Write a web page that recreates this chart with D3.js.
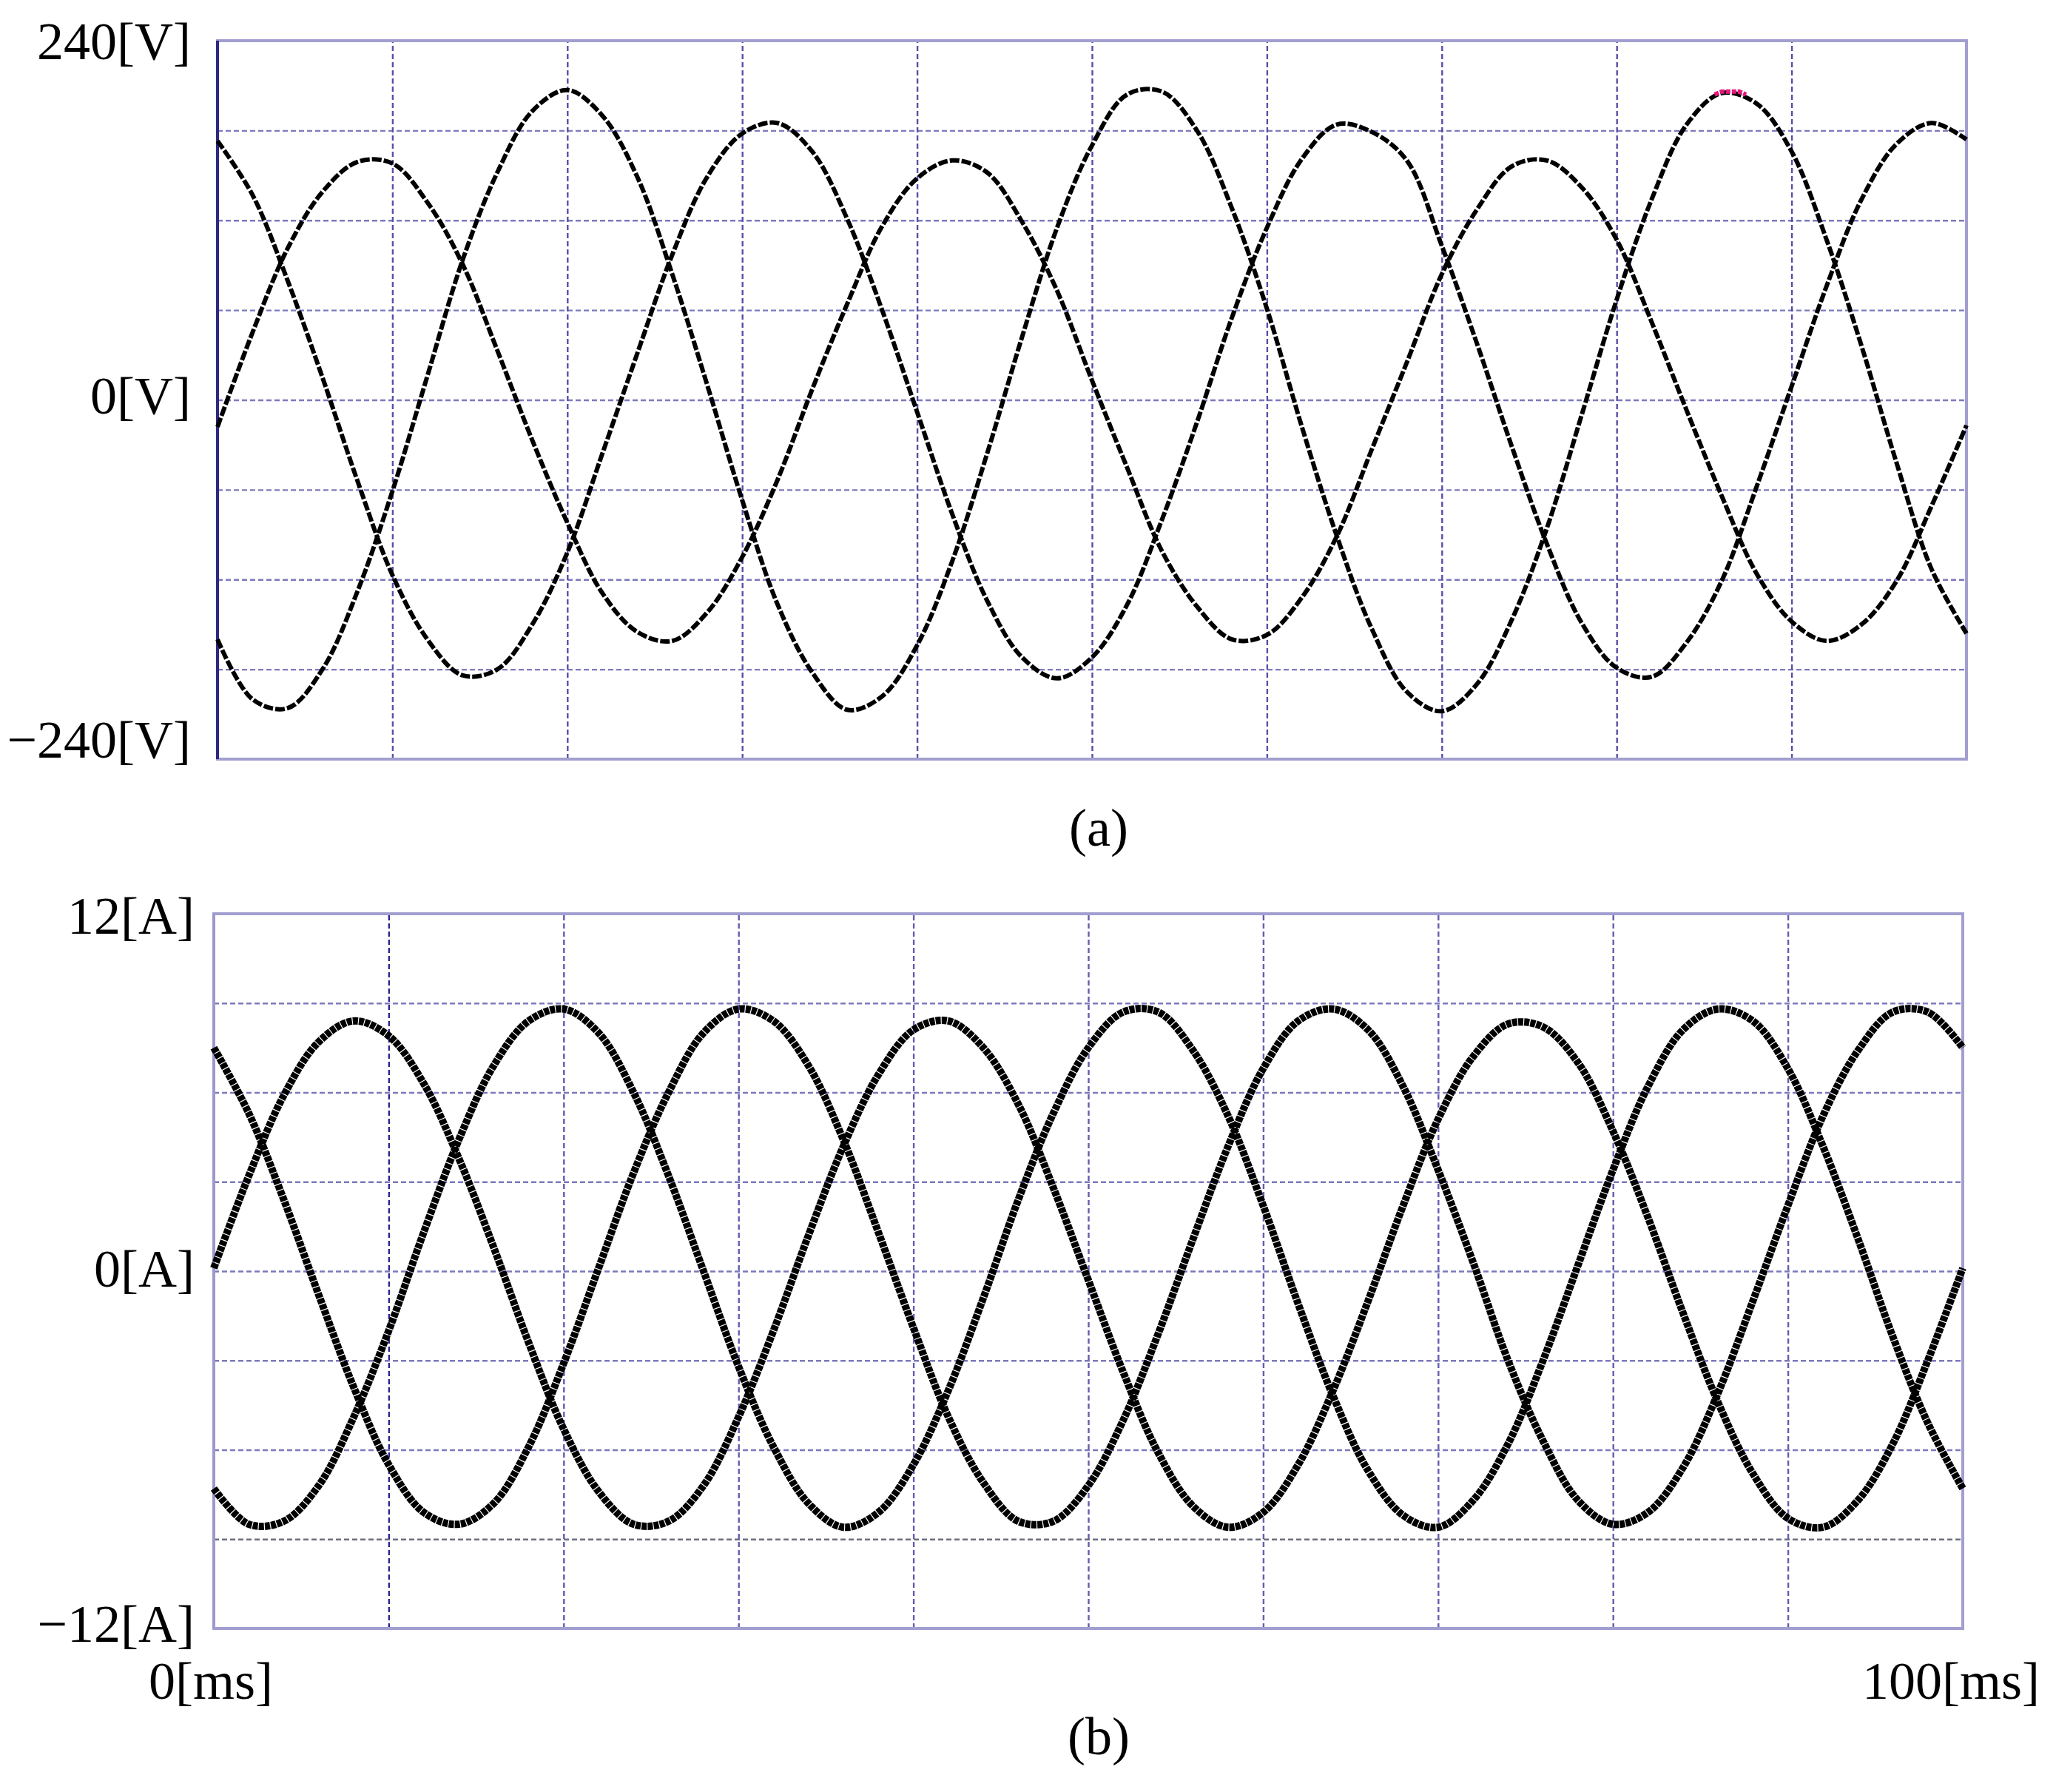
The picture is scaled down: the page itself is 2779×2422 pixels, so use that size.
<!DOCTYPE html>
<html>
<head>
<meta charset="utf-8">
<script src="https://cdn.jsdelivr.net/npm/d3@7"></script>
<style>
  body { margin: 0; background: #fff; }
  text { font-family: "Liberation Serif", "Times New Roman", serif; fill: #000; }
</style>
</head>
<body>
<svg id="chart" width="2779" height="2422"></svg>
<script>
// sample times (ms), one reading every 2 ms
const timeMs = [0, 2, 4, 6, 8, 10, 12, 14, 16, 18, 20, 22, 24, 26, 28, 30, 32, 34, 36, 38, 40,
    42, 44, 46, 48, 50, 52, 54, 56, 58, 60, 62, 64, 66, 68, 70, 72, 74, 76, 78, 80,
    82, 84, 86, 88, 90, 92, 94, 96, 98, 100];

// (a) phase voltages [V]
const voltageA = [-160, -200, -206, -180, -128, -61, 16, 93, 152, 193, 207, 190, 149, 84, 10, -67, -136,
    -182, -207, -198, -164, -108, -36, 42, 115, 170, 204, 206, 180, 128, 61, -18, -91, -153, -195,
    -208, -190, -147, -86, -10, 67, 134, 184, 205, 198, 166, 107, 36, -42, -113, -156];
const voltageB = [173, 137, 80, 15, -54, -117, -160, -184, -180, -150, -102, -36, 31, 97, 149, 178, 185,
    166, 121, 60, -8, -76, -134, -172, -186, -172, -137, -80, -15, 55, 115, 161, 184, 179, 160, 103,
    38, -31, -96, -149, -179, -185, -162, -121, -58, 9, 76, 134, 171, 185, 174];
const voltageC = [-18, 45, 101, 139, 159, 158, 132, 91, 33, -27, -82, -129, -155, -161, -142, -105, -54,
    7, 64, 116, 148, 160, 152, 119, 73, 13, -45, -101, -138, -160, -157, -132, -91, -33, 25, 84, 127,
    156, 160, 142, 107, 52, -7, -64, -116, -148, -161, -150, -121, -71, -17];

// (b) phase currents [A]
const currentA = [-7.3, -8.5, -8.4, -7.2, -4.9, -2.0, 1.3, 4.4, 6.9, 8.4, 8.8, 8.0, 6.0, 3.2, 0.0, -3.2,
    -5.9, -7.8, -8.6, -8.1, -6.5, -4.0, -0.9, 2.4, 5.3, 7.5, 8.7, 8.7, 7.4, 5.2, 2.2, -1.1, -4.2, -6.7,
    -8.2, -8.6, -7.7, -5.8, -3.0, 0.2, 3.4, 6.2, 8.1, 8.8, 8.4, 6.8, 4.2, 1.1, -2.2, -5.1, -7.3];
const currentB = [7.5, 5.3, 2.4, -0.8, -3.9, -6.5, -8.1, -8.5, -7.8, -5.9, -3.1, 0.1, 3.3, 6.0, 8.0, 8.8,
    8.4, 6.9, 4.4, 1.3, -1.9, -4.9, -7.1, -8.4, -8.4, -7.2, -5.0, -2.1, 1.1, 4.2, 6.8, 8.4, 8.8, 8.1,
    6.2, 3.4, 0.3, -3.0, -5.7, -7.7, -8.5, -8.1, -6.6, -4.1, -1.0, 2.2, 5.2, 7.4, 8.7, 8.7, 7.5];
const currentC = [0.1, 3.2, 5.9, 7.7, 8.4, 7.9, 6.3, 3.8, 0.8, -2.4, -5.3, -7.4, -8.5, -8.4, -7.2, -4.9,
    -2.0, 1.2, 4.2, 6.6, 8.1, 8.4, 7.5, 5.6, 2.8, -0.3, -3.4, -6.1, -7.9, -8.6, -8.1, -6.5, -4.0, -1.0,
    2.2, 5.1, 7.2, 8.3, 8.2, 7.0, 4.7, 1.8, -1.4, -4.4, -6.8, -8.3, -8.6, -7.7, -5.8, -3.0, 0.1];

// magenta cursor mark on the third voltage peak
const cursorT = [85.6, 86.0, 86.5, 87.0, 87.4];
const cursorV = [204, 206, 206, 206, 204];

const timeTicks = [0, 10, 20, 30, 40, 50, 60, 70, 80, 90, 100];
const voltTicks = [-240, -180, -120, -60, 0, 60, 120, 180, 240];
const currTicks = [-12, -9, -6, -3, 0, 3, 6, 9, 12];
const voltLabels = ['240[V]', '0[V]', '\u2212240[V]'];
const voltLabelAt = [240, 0, -240];
const currLabels = ['12[A]', '0[A]', '\u221212[A]'];
const currLabelAt = [12, 0, -12];
const timeLabels = ['0[ms]', '100[ms]'];

const W = 2779, H = 2422;
const svg = d3.select('#chart');
svg.append('rect').attr('width', W).attr('height', H).attr('fill', '#fff');

const zip = (ys) => timeMs.map((t, i) => [t, ys[i]]);

function drawPanel(p) {
    const x = d3.scaleLinear().domain([0, 100]).range([p.left, p.right]);
    const y = d3.scaleLinear().domain(p.domain).range([p.bottom, p.top]);
    const g = svg.append('g');

    // grid
    g.append('g')
        .attr('transform', `translate(${p.left},0)`)
        .call(d3.axisLeft(y).tickValues(p.ticks).tickSize(-(p.right - p.left)).tickFormat(''))
        .call(a => a.select('.domain').remove())
        .selectAll('line')
        .attr('stroke', d => p.hColor(d))
        .attr('stroke-width', 2.4)
        .attr('stroke-dasharray', '7,4');

    g.append('g')
        .attr('transform', `translate(0,${p.bottom})`)
        .call(d3.axisBottom(x).tickValues(timeTicks).tickSize(-(p.bottom - p.top)).tickFormat(''))
        .call(a => a.select('.domain').remove())
        .selectAll('line')
        .attr('stroke', d => p.vColor(d))
        .attr('stroke-width', 2.4)
        .attr('stroke-dasharray', '7,4');

    // frame
    g.append('rect')
        .attr('x', p.left).attr('y', p.top)
        .attr('width', p.right - p.left).attr('height', p.bottom - p.top)
        .attr('fill', 'none').attr('stroke', '#a29fd0').attr('stroke-width', 4);
    g.append('line')
        .attr('x1', p.left).attr('x2', p.left).attr('y1', p.top).attr('y2', p.bottom)
        .attr('stroke', p.leftEdge).attr('stroke-width', 4);

    // traces
    const line = d3.line()
        .x(d => x(d[0])).y(d => y(d[1]))
        .curve(d3.curveCatmullRom.alpha(0.5));
    p.series.forEach(s => {
        g.append('path')
            .attr('d', line(zip(s)))
            .attr('fill', 'none')
            .attr('stroke', '#000')
            .attr('stroke-width', p.lineW)
            .attr('stroke-dasharray', p.lineDash);
    });

    // labels on the left
    p.labels.forEach((txt, i) => {
        g.append('text')
            .attr('x', p.left - p.labelGap)
            .attr('y', y(p.labelAt[i]) + p.labelDy[i])
            .attr('text-anchor', 'end')
            .attr('font-size', 72)
            .text(txt);
    });

    return { x, y, g };
}

const a = drawPanel({
    left: 294, right: 2658, top: 55, bottom: 1026,
    domain: [-240, 240], ticks: voltTicks,
    series: [voltageA, voltageB, voltageC],
    labels: voltLabels, labelAt: voltLabelAt, labelDy: [25, 18, -2], labelGap: 36,
    leftEdge: '#2f2883',
    hColor: () => '#7d79bd',
    vColor: () => '#5550a8',
    lineW: 6, lineDash: '13,3'
});

a.g.append('path')
    .attr('d', d3.line().x(d => a.x(d[0])).y(d => a.y(d[1]))(cursorT.map((t, i) => [t, cursorV[i]])))
    .attr('fill', 'none')
    .attr('stroke', '#e4187c')
    .attr('stroke-width', 6)
    .attr('stroke-dasharray', '6,2');

const b = drawPanel({
    left: 289, right: 2653, top: 1235, bottom: 2201,
    domain: [-12, 12], ticks: currTicks,
    series: [currentA, currentB, currentC],
    labels: currLabels, labelAt: currLabelAt, labelDy: [27, 21, 18], labelGap: 26,
    leftEdge: '#9d99cc',
    hColor: d => d === -9 ? '#6e6e7e' : '#7d79bd',
    vColor: d => d === 10 ? '#2a2590' : '#625eb0',
    lineW: 10, lineDash: '7,1.2'
});

// time labels under (b)
svg.append('text')
    .attr('x', b.x(0) - 88).attr('y', 2296)
    .attr('font-size', 72).text(timeLabels[0]);
svg.append('text')
    .attr('x', b.x(100) + 104).attr('y', 2296)
    .attr('text-anchor', 'end')
    .attr('font-size', 72).text(timeLabels[1]);

// sub-figure captions
svg.append('text')
    .attr('x', 1485).attr('y', 1143)
    .attr('text-anchor', 'middle').attr('font-size', 72).text('(a)');
svg.append('text')
    .attr('x', 1485).attr('y', 2371)
    .attr('text-anchor', 'middle').attr('font-size', 72).text('(b)');
</script>
</body>
</html>
